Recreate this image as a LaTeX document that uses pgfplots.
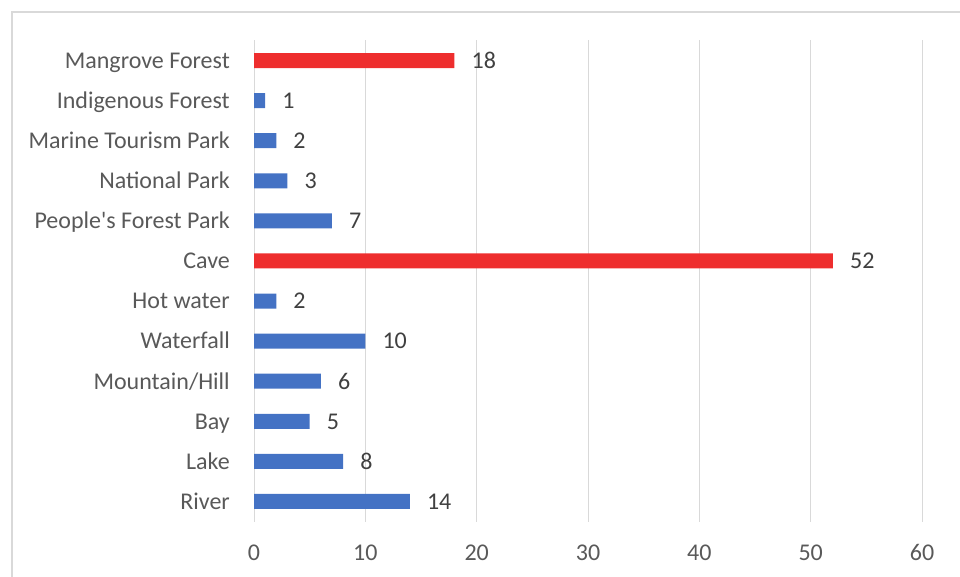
\documentclass[border=0pt]{standalone}
\usepackage{fontspec}
\setmainfont{Carlito}
\usepackage{pgfplots}
\pgfplotsset{compat=1.18}
\definecolor{barblue}{HTML}{4472C4}
\definecolor{barred}{HTML}{EE2E2E}
\definecolor{gridc}{HTML}{D9D9D9}
\definecolor{lbl}{HTML}{595959}
\definecolor{val}{HTML}{404040}
\begin{document}
\begin{tikzpicture}[x=1pt,y=1pt]
\useasboundingbox (0,0) rectangle (960,576);
\begin{scope}
\clip (0,0) rectangle (960,576);
\draw[gridc, line width=1.3pt] (12,-10) -- (12,564) -- (975,564);
\end{scope}
\begin{axis}[
  at={(254pt,54.5pt)}, anchor=south west,
  scale only axis, width=668pt, height=481pt,
  xmin=0, xmax=60, ymin=0.5, ymax=12.5,
  xtick={0,10,...,60},
  ytick={1,...,12},
  yticklabels={River,Lake,Bay,Mountain/Hill,Waterfall,Hot water,Cave,People\textquotesingle s Forest Park,National Park,Marine Tourism Park,Indigenous Forest,Mangrove Forest},
  xmajorgrids, grid style={gridc, line width=1pt},
  axis line style={draw=none},
  major tick length=0pt,
  /pgf/number format/assume math mode=true,
  font=\fontsize{24}{29}\selectfont,
  xticklabel style={text=lbl, inner sep=0pt, anchor=base, yshift=-38.5pt},
  yticklabel style={text=lbl, inner sep=0pt, anchor=base east, xshift=-24pt, yshift=-7.8pt},
  xbar, bar width=15pt, bar shift=0pt,
  nodes near coords,
  every node near coord/.style={anchor=base west, inner sep=0pt, xshift=17pt, yshift=-7.8pt, text=val, font=\fontsize{24}{29}\selectfont},
  clip=false,
]
\addplot[fill=barblue, draw=none] coordinates {
  (14,1) (8,2) (5,3) (6,4) (10,5) (2,6) (7,8) (3,9) (2,10) (1,11)
};
\addplot[fill=barred, draw=none] coordinates {
  (52,7) (18,12)
};
\end{axis}
\end{tikzpicture}
\end{document}
